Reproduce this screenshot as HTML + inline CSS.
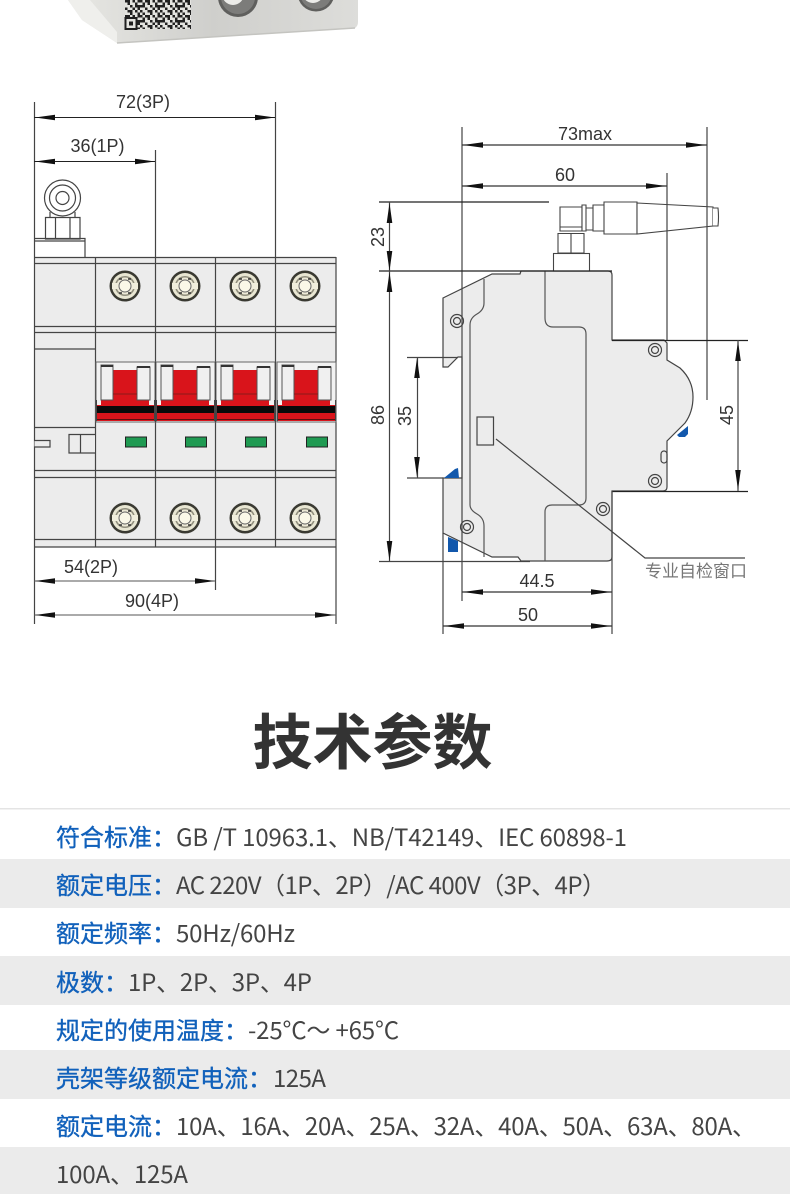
<!DOCTYPE html>
<html><head><meta charset="utf-8"><style>
html,body{margin:0;padding:0;background:#fff}
svg{display:block}
.dim{font-family:"Liberation Sans","DejaVu Sans",sans-serif;font-size:18px;fill:#333}
.l{stroke:#444;stroke-width:1.2;fill:none}
.k{stroke:#222;stroke-width:1.1;fill:none}
.p{stroke:#555;stroke-width:1.2;fill:none}
.lab{font-family:"Noto Sans CJK SC",sans-serif;font-size:24px;fill:#1161bb;stroke:#1161bb;stroke-width:.35}
.val{font-family:"Noto Sans CJK SC",sans-serif;font-size:24px;fill:#444}
</style></head><body>
<svg width="790" height="1194" viewBox="0 0 790 1194" xmlns="http://www.w3.org/2000/svg">
<defs>
<linearGradient id="dev" x1="0" y1="0" x2="1" y2="0"><stop offset="0" stop-color="#e8e8e4"/><stop offset=".5" stop-color="#cfcfcc"/><stop offset="1" stop-color="#dddddA"/></linearGradient>
<pattern id="qr" width="20" height="15" patternUnits="userSpaceOnUse">
<rect width="20" height="15" fill="#e4e4e0"/>
<path d="M0 0h2.500v2.500H0zM5 0h5v2.500H5zM12.500 0h2.500v2.500h-2.500zM17.500 0h2.500v2.500h-2.500zM2.500 2.500h2.500V5H2.500zM7.500 2.500H10V5H7.500zM15 2.500h2.500V5H15zM0 5h5v2.500H0zM10 5h2.500v2.500H10zM15 5h5v2.500h-5zM5 7.500h2.500V10H5zM12.500 7.500H15V10h-2.500zM17.500 7.500H20V10h-2.500zM0 10h2.500v2.500H0zM7.500 10h5v2.500h-5zM15 10h2.500v2.500H15zM2.500 12.500H5V15H2.500zM10 12.500h2.500V15H10zM17.500 12.500H20V15h-2.500z" fill="#222"/>
</pattern>
<g id="ah"><path d="M0 0L20 -2.800V2.800Z" fill="#111"/></g>
<g id="screw">
<circle r="15.5" fill="#3a3a32"/><circle r="13" fill="#e8e6d2"/><circle r="10" fill="#8f8d7c"/><circle r="8.5" fill="#ece9d6"/>
<rect x="-13" y="-3" width="26" height="6" fill="#f0eedc"/><circle r="6" fill="#faf8e8" stroke="#666" stroke-width="1"/>
<path d="M-6-7h3M3-7h3M-6 7h3M3 7h3" stroke="#333" stroke-width="1.5"/>
</g>
<g id="pole">
<rect x="1" y="362" width="59" height="60" fill="#f2f2f2" stroke="#666" stroke-width="1"/>
<rect x="18" y="370" width="24" height="26" fill="#d9141b"/>
<path d="M18 394h24v6h12v5h5v2H1v-2h5v-5h12z" fill="#d9141b"/>
<rect x="6" y="365" width="12" height="35" fill="#f0f0f0" stroke="#555" stroke-width="1"/>
<path d="M6 366h12" stroke="#333" stroke-width="2"/>
<rect x="42" y="367" width="13" height="33" fill="#f0f0f0" stroke="#555" stroke-width="1"/>
<path d="M42 367h13" stroke="#333" stroke-width="2"/>
<path d="M18 394h24" stroke="#8a1a1a" stroke-width="1"/>
<rect x="1.500" y="406" width="58" height="7" fill="#0a0a0a"/>
<rect x="1.500" y="413" width="58" height="8" fill="#d9141b"/>
<path d="M1.500 419.500h58" stroke="#5a1010" stroke-width="1"/>
<path d="M1.500 400v21M59.500 400v21" stroke="#444" stroke-width="1"/>
<rect x="30.500" y="437" width="21" height="10" fill="#1f9a52" stroke="#222" stroke-width="1"/>
</g>
</defs>

<!-- top device -->
<path d="M68 0L82 20L117 43L355 28Q358 26 358 22V0Z" fill="url(#dev)"/>
<path d="M117 43L355 28" stroke="#c4c4c0" stroke-width="1.500"/>
<path d="M68 0L82 20L117 43V32L90 0Z" fill="#efefec"/>
<rect x="125" y="0" width="66" height="29" fill="url(#qr)"/>
<rect x="125.500" y="18" width="11" height="11" fill="#e4e4e0" stroke="#1f1f1f" stroke-width="2"/><rect x="129" y="21.500" width="4" height="4" fill="#1f1f1f"/>
<circle cx="238" cy="-3" r="20" fill="#5f5f5d"/><circle cx="238" cy="-3" r="17" fill="#7c7c7a"/><circle cx="233" cy="-6" r="11" fill="#ebebe8"/>
<circle cx="316" cy="-7" r="18.500" fill="#5f5f5d"/><circle cx="316" cy="-7" r="16" fill="#7c7c7a"/><circle cx="313" cy="-8" r="11" fill="#ebebe8"/>

<!-- front view -->
<rect x="34" y="257" width="302" height="290" fill="#ececec"/>
<g class="l">
<path d="M34.500 102V624M275.500 102V547M155.500 150V547M215.500 257V590M336 257V624M95.500 257V547"/>
<path d="M34 257.500H336M34 263.500H336M34 326.500H336M34 332.500H336M34 349H95M34 427.500H95M34 470.500H336M34 477.500H336M34 539.500H336M34 547H336"/>
</g>
<g id="poles">
<use href="#pole" x="95"/><use href="#pole" x="155"/><use href="#pole" x="215"/><use href="#pole" x="276"/>
</g>
<path d="M155.500 362V422M215.500 362V422M275.500 362V422" stroke="#444"/>
<g class="l">
<path d="M34.500 440.500H50V447H34.500M95 434.500H69V453H95M80.500 434.500V453" fill="#ececec"/>
</g>
<use href="#screw" x="125" y="286"/><use href="#screw" x="185" y="286"/><use href="#screw" x="245" y="286"/><use href="#screw" x="305" y="286"/>
<use href="#screw" x="125" y="518"/><use href="#screw" x="185" y="518"/><use href="#screw" x="245" y="518"/><use href="#screw" x="305" y="518"/>
<!-- left antenna -->
<g class="l" fill="#fff">
<circle cx="62.500" cy="198" r="18"/><circle cx="62.500" cy="198" r="13"/><circle cx="62.500" cy="198" r="6.500"/>
<path d="M50 212V217M75 212V217M45.500 217.500H80V239H45.500ZM55.500 217.500V239M70 217.500V239"/>
<path d="M34.500 238.500H85V257M34.500 241H85"/>
</g>
<!-- left dims -->
<g class="k">
<path d="M34 117.500H275M34 161.500H155"/><path d="M34 581H215M34 615H336" stroke="#555"/>
</g>
<use href="#ah" transform="translate(35,117.500)"/><use href="#ah" transform="translate(275,117.500) rotate(180)"/>
<use href="#ah" transform="translate(35,161.500)"/><use href="#ah" transform="translate(155,161.500) rotate(180)"/>
<use href="#ah" transform="translate(35,581)"/><use href="#ah" transform="translate(215,581) rotate(180)"/>
<use href="#ah" transform="translate(35,615)"/><use href="#ah" transform="translate(335,615) rotate(180)"/>
<text class="dim" x="143" y="108" text-anchor="middle">72(3P)</text>
<text class="dim" x="97.500" y="152" text-anchor="middle">36(1P)</text>
<text class="dim" x="91" y="573" text-anchor="middle">54(2P)</text>
<text class="dim" x="152" y="607" text-anchor="middle">90(4P)</text>

<!-- side view -->
<path d="M443 298L492 274H520L521 271H608Q612 271 612 275V340H664L667 343V360L680 368Q693 380 693 397Q693 412 685 423L667 441V487Q667 491 663 491H612V557Q612 561 607 561H521L518 557H492L443 533V478H462V357H458L448 367H443Z" fill="#ececec" stroke="#444" stroke-width="1.200"/>
<path class="p" d="M484 279V303Q484 310 477 314Q470 318 470 325V505Q470 510 477 514Q484 518 484 526V557"/>
<path class="p" d="M545 271V318Q545 327 553 327H579Q586 327 586 334V498Q586 505 579 505H552Q545 505 545 512V561"/>
<!-- blue clips -->
<path d="M444 478L455 469L458 468L459 478Z" fill="#1258ac"/>
<path d="M448 537L458 541V552H448Z" fill="#1258ac"/>
<path d="M677 435L688 426V434L685 437H679Z" fill="#1258ac"/>
<!-- rivets -->
<g fill="none" stroke="#444" stroke-width="1.200"><circle cx="457" cy="321" r="6.500"/><circle cx="457" cy="321" r="3.500"/>
<circle cx="655" cy="350" r="6.500"/><circle cx="655" cy="350" r="3.500"/>
<circle cx="655" cy="481" r="6.500"/><circle cx="655" cy="481" r="3.500"/>
<circle cx="603" cy="509" r="6.500"/><circle cx="603" cy="509" r="3.500"/>
<circle cx="467" cy="527" r="6.500"/><circle cx="467" cy="527" r="3.500"/>
<rect x="661" y="451" width="6" height="12" rx="3"/></g>
<!-- antenna side -->
<g stroke="#444" fill="#fff" stroke-width="1.100">
<rect x="553.500" y="253.500" width="36" height="17.500"/>
<path d="M558 233.500H584V253H558ZM571 233.500V253"/>
<path d="M560 207H582V231H560Z"/><path d="M560 227H582"/>
<path d="M582 205H586V231H582ZM586 208H593V230H586ZM593 205H604V231H593ZM604 202H637V234H604Z"/>
<path d="M637 203L713 207V226L637 234Z"/><path d="M713 208H718Q719 217 718 226H713"/>
</g>
<!-- side dims -->
<g class="l">
<path d="M462 127V601M707 127V400M667 173V340"/>
<path d="M379 202H549M379 271H612" stroke="#222"/>
<path d="M407 357.500H458M407 478H443M379 561.500H530" />
<path d="M612 340.500H748M612 491.500H748" stroke="#222"/>
<path d="M443 533V634M612 491V634"/>
<path d="M389.500 202V561M417.500 357V478M738 340V491"/>
<path d="M462 145H707M462 186H667M462 592H612M443 626H612" stroke="#333"/>
<rect x="477" y="417" width="16.500" height="28"/>
<path d="M496 439L645 558H745"/>
</g>
<use href="#ah" transform="translate(463,145)"/><use href="#ah" transform="translate(706,145) rotate(180)"/>
<use href="#ah" transform="translate(463,186)"/><use href="#ah" transform="translate(666,186) rotate(180)"/>
<use href="#ah" transform="translate(463,592)"/><use href="#ah" transform="translate(611,592) rotate(180)"/>
<use href="#ah" transform="translate(444,626)"/><use href="#ah" transform="translate(611,626) rotate(180)"/>
<use href="#ah" transform="translate(389.500,203) rotate(90)"/><use href="#ah" transform="translate(389.500,271) rotate(-90)"/>
<use href="#ah" transform="translate(389.500,272) rotate(90)"/><use href="#ah" transform="translate(389.500,561) rotate(-90)"/>
<use href="#ah" transform="translate(417,358) rotate(90)"/><use href="#ah" transform="translate(417,477) rotate(-90)"/>
<use href="#ah" transform="translate(738,341) rotate(90)"/><use href="#ah" transform="translate(738,490) rotate(-90)"/>
<text class="dim" x="585" y="140" text-anchor="middle">73max</text>
<text class="dim" x="565" y="181" text-anchor="middle">60</text>
<text class="dim" x="537" y="587" text-anchor="middle">44.5</text>
<text class="dim" x="528" y="621" text-anchor="middle">50</text>
<text class="dim" transform="translate(384,237) rotate(-90)" text-anchor="middle">23</text>
<text class="dim" transform="translate(384,415) rotate(-90)" text-anchor="middle">86</text>
<text class="dim" transform="translate(411,416) rotate(-90)" text-anchor="middle">35</text>
<text class="dim" transform="translate(733,415) rotate(-90)" text-anchor="middle">45</text>
<text x="645" y="577" font-family="'Noto Sans CJK SC',sans-serif" font-size="17" fill="#777">专业自检窗口</text>

<!-- title -->
<text x="372.500" y="764" text-anchor="middle" font-family="'Noto Sans CJK SC',sans-serif" font-weight="700" font-size="60" fill="#333">技术参数</text>

<!-- table -->
<rect x="0" y="808" width="790" height="1.500" fill="#e4e4e4"/>
<rect x="0" y="859" width="790" height="49" fill="#ebebeb"/>
<rect x="0" y="956" width="790" height="49" fill="#ebebeb"/>
<rect x="0" y="1050" width="790" height="49" fill="#ebebeb"/>
<rect x="0" y="1147" width="790" height="47" fill="#ebebeb"/>
<text class="lab" x="56" y="846">符合标准&#xFF1A;</text>
<text class="val" x="176" y="846" textLength="451">GB /T 10963.1、NB/T42149、IEC 60898-1</text>
<text class="lab" x="56" y="894">额定电压&#xFF1A;</text>
<text class="val" x="176" y="894" textLength="430">AC 220V&#xFF08;1P、2P&#xFF09;/AC 400V&#xFF08;3P、4P&#xFF09;</text>
<text class="lab" x="56" y="942">额定频率&#xFF1A;</text>
<text class="val" x="176" y="942" textLength="119">50Hz/60Hz</text>
<text class="lab" x="56" y="991">极数&#xFF1A;</text>
<text class="val" x="128" y="991" textLength="184">1P、2P、3P、4P</text>
<text class="lab" x="56" y="1039">规定的使用温度&#xFF1A;</text>
<text class="val" x="248" y="1039" textLength="151">-25°C〜 +65°C</text>
<text class="lab" x="56" y="1087">壳架等级额定电流&#xFF1A;</text>
<text class="val" x="273" y="1087" textLength="53">125A</text>
<text class="lab" x="56" y="1135">额定电流&#xFF1A;</text>
<text class="val" x="176" y="1135" textLength="580">10A、16A、20A、25A、32A、40A、50A、63A、80A、</text>
<text class="val" x="56" y="1183" textLength="132">100A、125A</text>
</svg>
</body></html>
